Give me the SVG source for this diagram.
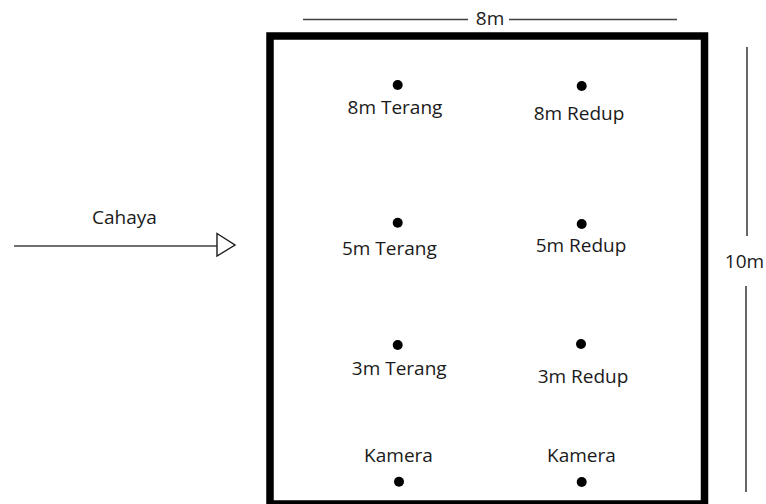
<svg xmlns="http://www.w3.org/2000/svg" width="766" height="504" viewBox="0 0 766 504">
  <style>
    .lbl { font-family: "Open Sans", "Noto Sans", "DejaVu Sans", sans-serif; font-size: 19px; fill: #1a1a1a; text-anchor: middle; }
    .dim { stroke: #404040; stroke-width: 1.6; fill: none; }
    .pt { fill: #000; }
  </style>
  <rect width="766" height="504" fill="#fff"/>

  <!-- room outline -->
  <g id="room">
    <rect x="270" y="36" width="434.5" height="468" fill="none" stroke="#000" stroke-width="7.5"/>
  </g>

  <!-- dimension lines and light direction -->
  <g id="connectors">
    <line class="dim" x1="303" y1="19.5" x2="468" y2="19.5"/>
    <line class="dim" x1="509" y1="19.5" x2="677" y2="19.5"/>
    <line class="dim" x1="747" y1="47" x2="747" y2="236"/>
    <line class="dim" x1="746" y1="286" x2="746" y2="492"/>
    <line class="dim" x1="14" y1="246" x2="217" y2="246"/>
    <polygon points="217,233.5 235,245 217,256" fill="#fff" stroke="#1a1a1a" stroke-width="1.4"/>
  </g>

  <g id="width-label"><text class="lbl" x="490" y="25">8m</text></g>
  <g id="height-label"><text class="lbl" x="744.5" y="268">10m</text></g>
  <g id="light"><text class="lbl" x="124.5" y="224">Cahaya</text></g>

  <g id="terang-8m">
    <circle class="pt" cx="397.7" cy="85" r="5"/>
    <text class="lbl" x="395" y="114">8m Terang</text>
  </g>
  <g id="redup-8m">
    <circle class="pt" cx="581.7" cy="86" r="5"/>
    <text class="lbl" x="579" y="120">8m Redup</text>
  </g>
  <g id="terang-5m">
    <circle class="pt" cx="397.7" cy="222.7" r="5"/>
    <text class="lbl" x="389.4" y="255">5m Terang</text>
  </g>
  <g id="redup-5m">
    <circle class="pt" cx="581.7" cy="224" r="5"/>
    <text class="lbl" x="581" y="252">5m Redup</text>
  </g>
  <g id="terang-3m">
    <circle class="pt" cx="397.7" cy="345" r="5"/>
    <text class="lbl" x="399.2" y="375">3m Terang</text>
  </g>
  <g id="redup-3m">
    <circle class="pt" cx="581" cy="344" r="5"/>
    <text class="lbl" x="583" y="383">3m Redup</text>
  </g>
  <g id="kamera-left">
    <text class="lbl" x="398.5" y="462">Kamera</text>
    <circle class="pt" cx="399" cy="481.7" r="5"/>
  </g>
  <g id="kamera-right">
    <text class="lbl" x="581.4" y="462">Kamera</text>
    <circle class="pt" cx="581.7" cy="482" r="5"/>
  </g>
</svg>
